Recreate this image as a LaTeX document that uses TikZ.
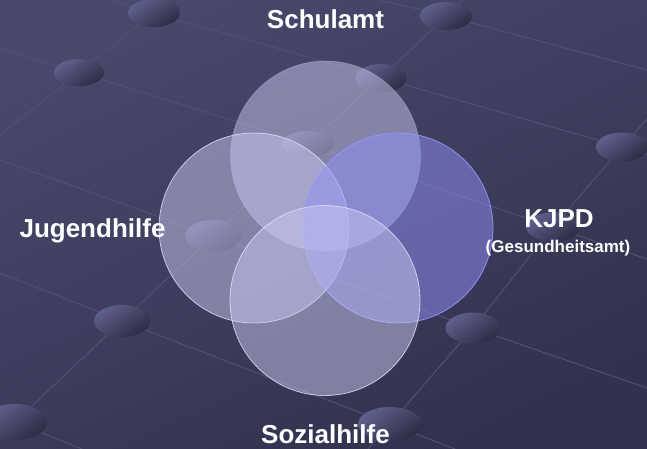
\documentclass[tikz,border=0pt]{standalone}
\usepackage{fontspec}
\setmainfont{Liberation Sans}
\usetikzlibrary{shapes.geometric}
\definecolor{bgA}{RGB}{72,72,108}
\definecolor{bgB}{RGB}{50,50,78}
\definecolor{gridc}{RGB}{80,80,114}
\definecolor{ballA}{RGB}{96,96,142}
\definecolor{ballB}{RGB}{44,44,68}
\definecolor{lav}{RGB}{200,200,240}
\definecolor{blu}{RGB}{144,144,246}
\definecolor{rimw}{RGB}{225,225,255}
\definecolor{rimb}{RGB}{150,150,255}
\begin{document}
\begin{tikzpicture}[x=1pt,y=-1pt,
  gridline/.style={draw=gridc, line width=1pt},
  ball/.style={ellipse, inner sep=0pt, top color=ballA, bottom color=ballB, shading angle=35},
  venn/.style={circle, minimum size=190pt, inner sep=0pt, fill=lav, fill opacity=0.5, draw=rimw, draw opacity=0.8, line width=0.8pt},
  lbl/.style={text=white, inner sep=0pt, font=\bfseries\fontsize{26}{30}\selectfont, anchor=base},
  sublbl/.style={text=white, inner sep=0pt, font=\bfseries\fontsize{17}{20}\selectfont, anchor=base}
]
\useasboundingbox (0,0) rectangle (647,449);
\shade[top color=bgA, bottom color=bgB, shading angle=25] (0,0) rectangle (647,449);
% grid coordinates
\coordinate (c1) at (154,13);
\coordinate (c2) at (446,16);
\coordinate (c3) at (79,72.5);
\coordinate (c4) at (381,78);
\coordinate (c5) at (308,144);
\coordinate (c6) at (622,147);
\coordinate (c7) at (213,236);
\coordinate (c8) at (553,227);
\coordinate (c9) at (122,321);
\coordinate (c10) at (473,328);
\coordinate (c11) at (15,422);
\coordinate (c12) at (390,424);
% free ends
\coordinate (e1) at (170,0);
\coordinate (e2) at (0,135);
\coordinate (e3) at (0,437);
\coordinate (e4) at (463,0);
\coordinate (e5) at (368,449);
\coordinate (e6) at (647,119);
\coordinate (e7) at (380,0);
\coordinate (e8) at (647,70);
\coordinate (e9) at (109,0);
\coordinate (e10) at (647,154);
\coordinate (e11) at (0,48);
\coordinate (e12) at (647,259);
\coordinate (e13) at (0,160);
\coordinate (e14) at (647,388);
\coordinate (e15) at (0,273);
\coordinate (e16) at (455,449);
\coordinate (e17) at (0,416);
\coordinate (e18) at (82,449);
% column lines
\draw[gridline] (e1) -- (c1) -- (c3) -- (e2);
\draw[gridline] (e3) -- (c11) -- (c9) -- (c7) -- (c5) -- (c4) -- (c2) -- (e4);
\draw[gridline] (e5) -- (c12) -- (c10) -- (c8) -- (c6) -- (e6);
% row lines
\draw[gridline] (e7) -- (c2) -- (e8);
\draw[gridline] (e9) -- (c1) -- (c4) -- (c6) -- (e10);
\draw[gridline] (e11) -- (c3) -- (c5) -- (c8) -- (e12);
\draw[gridline] (e13) -- (c7) -- (c10) -- (e14);
\draw[gridline] (e15) -- (c9) -- (c12) -- (e16);
\draw[gridline] (e17) -- (c11) -- (e18);
% balls
\node[ball, minimum width=52pt, minimum height=28pt] (b1) at (c1) {};
\node[ball, minimum width=52pt, minimum height=28pt] (b2) at (c2) {};
\node[ball, minimum width=50pt, minimum height=27pt] (b3) at (c3) {};
\node[ball, minimum width=51pt, minimum height=28pt] (b4) at (c4) {};
\node[ball, minimum width=52pt, minimum height=26pt] (b5) at (c5) {};
\node[ball, minimum width=52pt, minimum height=29pt] (b6) at (c6) {};
\node[ball, minimum width=56pt, minimum height=32pt] (b7) at (c7) {};
\node[ball, minimum width=54pt, minimum height=29pt] (b8) at (c8) {};
\node[ball, minimum width=56pt, minimum height=32pt] (b9) at (c9) {};
\node[ball, minimum width=55pt, minimum height=31pt] (b10) at (c10) {};
\node[ball, minimum width=64pt, minimum height=36pt] (b11) at (c11) {};
\node[ball, minimum width=64pt, minimum height=34pt] (b12) at (c12) {};
% venn circles
\node[venn, draw opacity=0.25] (schul) at (325.5,156) {};
\node[venn] (jug) at (254,228) {};
\node[venn, fill=blu, draw=rimb, draw opacity=0.9] (kjpd) at (398,228) {};
\node[venn] (soz) at (325,300.5) {};
% labels
\node[lbl] (schulT) at (325.5,29) {Schulamt};
\node[lbl] (jugT) at (92.5,237) {Jugendhilfe};
\node[lbl] (kjpdT) at (559,227) {KJPD};
\node[sublbl] (gesT) at (558,252) {(Gesundheitsamt)};
\node[lbl] (sozT) at (325.5,443) {Sozialhilfe};
\end{tikzpicture}
\end{document}
